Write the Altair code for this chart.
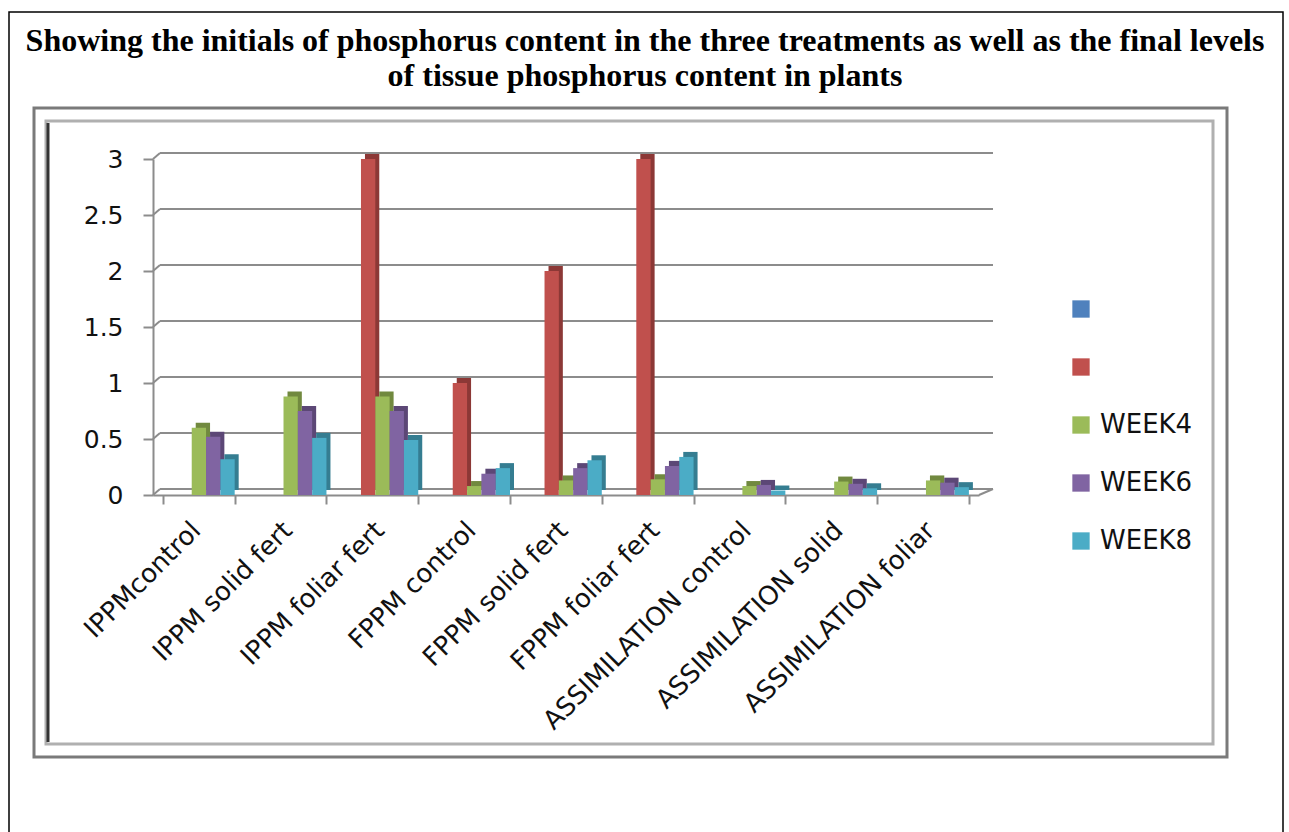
import altair as alt
import pandas as pd

categories = ["IPPMcontrol", "IPPM solid fert", "IPPM foliar fert", "FPPM control",
              "FPPM solid fert", "FPPM foliar fert", "ASSIMILATION control",
              "ASSIMILATION solid", "ASSIMILATION foliar"]
series_names = ["Series1", "Series2", "WEEK4", "WEEK6", "WEEK8"]
series_colors = ["#4F81BD", "#C0504D", "#9BBB59", "#8064A2", "#4BACC6"]
side_colors = ["#385D8A", "#8C3836", "#71893F", "#5C4776", "#357D91"]

series1 = [0, 0, 0, 0, 0, 0, None, None, None]
series2 = [None, None, 3.0, 1.0, 2.0, 3.0, None, None, None]
week4 = [0.60, 0.88, 0.88, 0.08, 0.13, 0.14, 0.08, 0.12, 0.13]
week6 = [0.52, 0.75, 0.75, 0.19, 0.24, 0.26, 0.09, 0.10, 0.11]
week8 = [0.32, 0.51, 0.49, 0.24, 0.31, 0.34, 0.04, 0.06, 0.07]
y_ticks = [0, 0.5, 1, 1.5, 2, 2.5, 3]

title_lines = ["Showing the initials of phosphorus content in the three treatments as well as the final levels",
               "of tissue phosphorus content in plants"]

rows = []
for name, vals in zip(series_names, [series1, series2, week4, week6, week8]):
    for cat, v in zip(categories, vals):
        if v is not None:
            rows.append({"category": cat, "series": name, "value": v})
df = pd.DataFrame(rows)
grid_df = pd.DataFrame({"value": y_ticks})

W, H = 826, 336
OX, OY = 153, 159  # plot origin in page
PI, PO = 0.22, 0.11
STEP = W / (len(categories) - PI + 2 * PO)
BAND = STEP * (1 - PI)
one = pd.DataFrame({"k": [0]})


def frame(x0, y0, x1, y1, color, sw):
    return alt.Chart(one).mark_rect(fillOpacity=0, stroke=color, strokeWidth=sw).encode(
        x=alt.value(x0 - OX), x2=alt.value(x1 - OX),
        y=alt.value(y0 - OY), y2=alt.value(y1 - OY))


page_border = frame(9, 12, 1283, 900, "#000000", 1.5)
outer_frame = frame(34, 108, 1227, 757, "#7a7a7a", 3)
inner_frame = frame(46, 121, 1213, 744, "#b0b0b0", 3)
inner_left = alt.Chart(one).mark_rule(color="#333333", strokeWidth=3).encode(
    x=alt.value(48 - OX), y=alt.value(123 - OY), y2=alt.value(742 - OY))

title_marks = []
for line, base in zip(title_lines, [51, 86]):
    title_marks.append(
        alt.Chart(one).mark_text(font="Liberation Serif", fontSize=32, fontWeight="bold",
                                 color="#000000", align="center", baseline="alphabetic").encode(
            x=alt.value(645 - OX), y=alt.value(base - OY), text=alt.value(line)))

y_scale = alt.Scale(domain=[0, 3], nice=False)

x_enc = alt.X("category:N", sort=categories, title=None,
              scale=alt.Scale(paddingInner=PI, paddingOuter=PO),
              axis=alt.Axis(labelAngle=-45, labelAlign="right", labelBaseline="middle",
                            labelFont="DejaVu Sans", labelFontSize=26, labelColor="#111111",
                            labelPadding=22, labelOffset=-3, labelLimit=500, tickBand="extent",
                            tickSize=9, tickColor="#8c8c8c", tickWidth=2,
                            domainColor="#8c8c8c", domainWidth=2, grid=False))
y_enc = alt.Y("value:Q", title=None, scale=y_scale,
              axis=alt.Axis(values=y_ticks, format="~g", labelFont="DejaVu Sans",
                            labelFontSize=25, labelColor="#111111", labelPadding=20,
                            tickSize=10, tickColor="#8c8c8c", tickWidth=2,
                            domainColor="#8c8c8c", domainWidth=2, grid=False))

# back-wall gridlines (3D look)
grid_back = alt.Chart(grid_df).mark_rule(color="#8c8c8c", strokeWidth=2, yOffset=-6).encode(
    y=alt.Y("value:Q", scale=y_scale), x=alt.value(7), x2=alt.value(840))
grid_diag = alt.Chart(grid_df).mark_rule(color="#8c8c8c", strokeWidth=2, y2Offset=-6).encode(
    y=alt.Y("value:Q", scale=y_scale), y2="value:Q", x=alt.value(0), x2=alt.value(7))
floor_right = alt.Chart(grid_df[grid_df["value"] == 0]).mark_rule(
    color="#8c8c8c", strokeWidth=2, y2Offset=-6).encode(
    y=alt.Y("value:Q", scale=y_scale), y2="value:Q", x=alt.value(W), x2=alt.value(840))

side = alt.Chart(df).mark_bar(yOffset=-5, y2Offset=-5).encode(
    x=x_enc,
    xOffset=alt.XOffset("series:N", sort=series_names,
                        scale=alt.Scale(domain=series_names, range=[4, BAND + 4],
                                        paddingInner=0, paddingOuter=0)),
    y=y_enc,
    fill=alt.Fill("series:N", sort=series_names, legend=None,
                  scale=alt.Scale(domain=series_names, range=side_colors)),
)

bars = alt.Chart(df).mark_bar().encode(
    x=x_enc,
    xOffset=alt.XOffset("series:N", sort=series_names,
                        scale=alt.Scale(domain=series_names, range=[0, BAND],
                                        paddingInner=0, paddingOuter=0)),
    y=y_enc,
    color=alt.Color("series:N", sort=series_names, title=None,
                    scale=alt.Scale(domain=series_names, range=series_colors),
                    legend=alt.Legend(orient="none", legendX=915, legendY=137,
                                      symbolType="square", symbolSize=300,
                                      symbolStrokeWidth=0, symbolOpacity=1,
                                      labelFont="DejaVu Sans", labelFontSize=26,
                                      labelColor="#111111", labelOffset=6,
                                      rowPadding=32, padding=0,
                                      labelExpr="indexof(['WEEK4','WEEK6','WEEK8'], datum.label) >= 0 ? datum.label : ''")),
)

chart = alt.layer(page_border, outer_frame, inner_frame, inner_left, *title_marks,
                  grid_back, grid_diag, floor_right,
                  side, bars).resolve_scale(color="independent", xOffset="independent").properties(
    width=W, height=H,
    autosize=alt.AutoSizeParams(type="none"),
    padding={"left": OX, "top": OY, "right": 1289 - OX - W, "bottom": 832 - OY - H},
    background="white",
).configure_view(stroke=None)

chart.save("out.html", embed_options={"renderer": "svg", "actions": False})
